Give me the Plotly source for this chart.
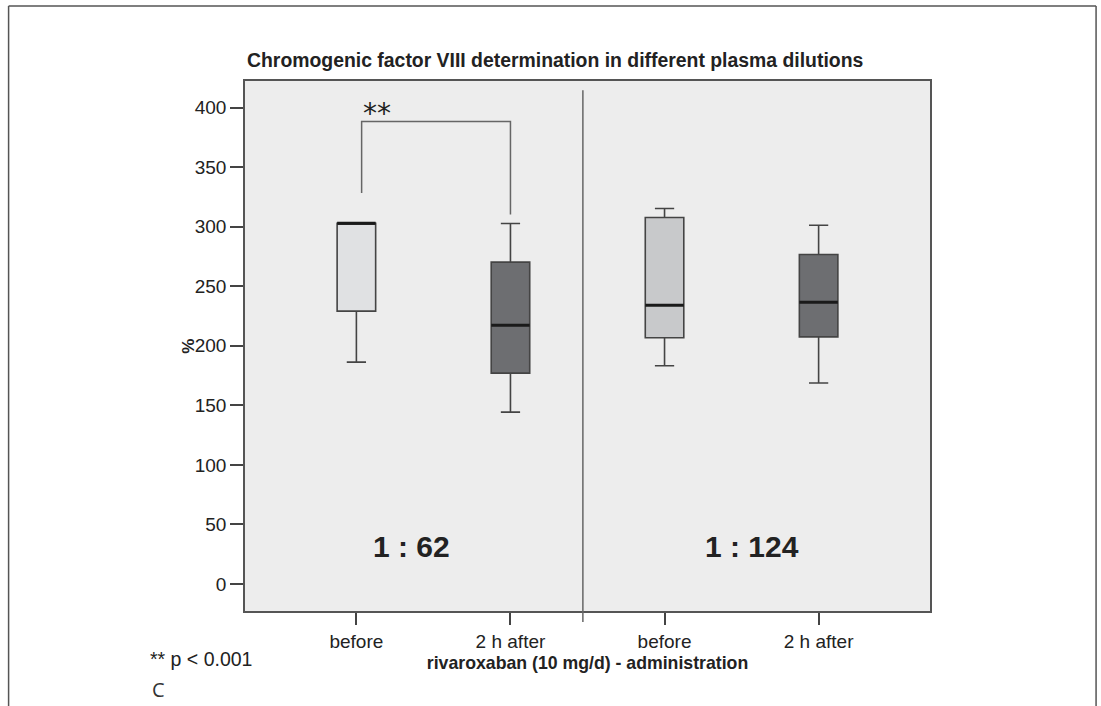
import plotly.graph_objects as go

# ---- data ----
positions = [0, 1, 2, 3]
tick_labels = ["before", "2 h after", "before", "2 h after"]
lower_whisker = [186.3, 144.3, 183.2, 168.7]
q1_vals = [229.1, 177.0, 206.7, 207.5]
median_vals = [302.9, 217.3, 234.1, 236.6]
q3_vals = [302.9, 270.2, 307.7, 276.6]
upper_whisker = [302.9, 302.6, 315.2, 301.2]
box_colors = ["#e0e1e3", "#6d6e71", "#c8c9cb", "#6d6e71"]
y_ticks = [0, 50, 100, 150, 200, 250, 300, 350, 400]
bracket_x = [0.034, 0.034, 1.0, 1.0]
bracket_y = [328.3, 388.2, 388.2, 310.2]
dilution_labels = ["1 : 62", "1 : 124"]
dilution_x = [0.357, 2.57]
dilution_y = [31.3, 31.3]

W, H = 1101, 706
L, R, T, B = 245.3, 930.0, 80.7, 611.0

def px(xp):
    return (xp - L) / (R - L)

def py(yp):
    return (B - yp) / (B - T)

FONT = "Liberation Sans"
TXT = "#222222"
BW = 0.25

fig = go.Figure()
for i, p in enumerate(positions):
    fig.add_trace(go.Box(
        x=[p], q1=[q1_vals[i]], median=[median_vals[i]], q3=[q3_vals[i]],
        lowerfence=[lower_whisker[i]], upperfence=[upper_whisker[i]],
        width=BW, whiskerwidth=0.5, fillcolor=box_colors[i],
        line=dict(color="#444444", width=1.6), boxpoints=False,
        showlegend=False, hoverinfo="skip"))
    fig.add_trace(go.Scatter(
        x=[p - BW / 2, p + BW / 2], y=[median_vals[i], median_vals[i]],
        mode="lines", line=dict(color="#1a1a1a", width=3),
        showlegend=False, hoverinfo="skip"))

fig.add_trace(go.Scatter(x=bracket_x, y=bracket_y, mode="lines",
                         line=dict(color="#666666", width=1.5),
                         showlegend=False, hoverinfo="skip"))

for lab, xx, yy in zip(dilution_labels, dilution_x, dilution_y):
    fig.add_annotation(x=xx, y=yy, xref="x", yref="y", text="<b>%s</b>" % lab,
                       xanchor="center", yanchor="middle",
                       showarrow=False, font=dict(family=FONT, size=30, color=TXT))

fig.add_annotation(x=px(377), y=py(113), xref="paper", yref="paper", text="**",
                   xanchor="center", yanchor="middle", showarrow=False,
                   font=dict(family="DejaVu Sans", size=28, color=TXT))

# divider between dilution groups
fig.add_shape(type="line", xref="x", yref="paper", x0=1.47, x1=1.47,
              y0=py(622), y1=py(90), line=dict(color="#666666", width=1.5))

# outer frame
fig.add_shape(type="line", xref="paper", yref="paper", x0=px(9), x1=px(9),
              y0=py(5.7), y1=py(720), line=dict(color="#555555", width=1.5))
fig.add_shape(type="line", xref="paper", yref="paper", x0=px(9), x1=px(1096),
              y0=py(5.7), y1=py(5.7), line=dict(color="#555555", width=1.5))
fig.add_shape(type="line", xref="paper", yref="paper", x0=px(1096), x1=px(1096),
              y0=py(5.7), y1=py(720), line=dict(color="#555555", width=1.5))

fig.add_annotation(x=px(245), y=py(60), xref="paper", yref="paper",
                   xanchor="left", yanchor="middle",
                   text="<b>Chromogenic factor VIII determination in different plasma dilutions</b>",
                   showarrow=False, font=dict(family=FONT, size=19.4, color=TXT))
fig.add_annotation(x=px(188), y=py(346), xref="paper", yref="paper",
                   xanchor="center", yanchor="middle", textangle=-90,
                   text="<b>%</b>", showarrow=False,
                   font=dict(family=FONT, size=17, color=TXT))
fig.add_annotation(x=px(148), y=py(659), xref="paper", yref="paper",
                   xanchor="left", yanchor="middle",
                   text="** p &lt; 0.001", showarrow=False,
                   font=dict(family=FONT, size=19.5, color=TXT))
fig.add_annotation(x=px(150), y=py(690), xref="paper", yref="paper",
                   xanchor="left", yanchor="middle",
                   text="C", showarrow=False,
                   font=dict(family="Open Sans", size=20, color="#333333"))

fig.update_layout(
    width=W, height=H,
    margin=dict(l=L, r=W - R, t=T, b=H - B),
    paper_bgcolor="white", plot_bgcolor="#ededed",
    font=dict(family=FONT, color=TXT),
    xaxis=dict(range=[-0.723, 3.723], tickvals=positions, ticktext=tick_labels,
               ticks="outside", ticklen=12, tickwidth=1.5, tickcolor="#444444",
               showline=True, linecolor="#555555", linewidth=1.5, mirror=True,
               showgrid=False, zeroline=False, tickfont=dict(size=19),
               title=dict(text="<b>rivaroxaban (10 mg/d) - administration</b>",
                          font=dict(size=17.7), standoff=6)),
    yaxis=dict(range=[-22.7, 422.3], tickvals=y_ticks,
               ticks="outside", ticklen=13, tickwidth=1.5, tickcolor="#444444",
               showline=True, linecolor="#555555", linewidth=1.5, mirror=True,
               showgrid=False, zeroline=False, tickfont=dict(size=19)),
)

fig.write_html("out.html", config={"displayModeBar": False},
               post_script="document.body.style.margin='0';")
